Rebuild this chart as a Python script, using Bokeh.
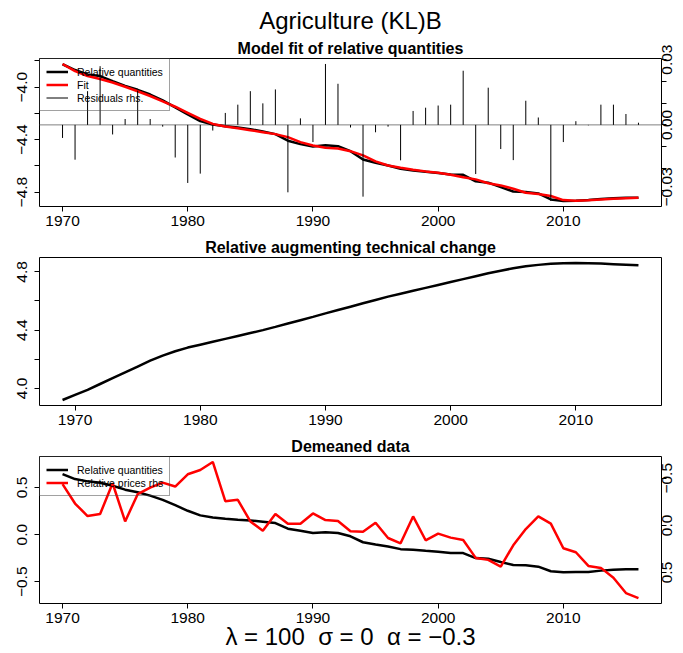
import math
from bokeh.plotting import figure
from bokeh.layouts import column
from bokeh.models import (Range1d, LinearAxis, FixedTicker, Span, Legend,
                          LegendItem, Title)
from bokeh.embed import file_html
from bokeh.resources import INLINE

FONT = "Liberation Sans"
TICK_FONT_PX = 15.5

# ---------------- data ----------------
years = list(range(1970, 2017))
years_tc = list(range(1969, 2016))

rel_quant = [-3.825, -3.869, -3.903, -3.915, -3.954, -3.990, -4.020, -4.056,
             -4.100, -4.154, -4.208, -4.259, -4.285, -4.297, -4.308, -4.320,
             -4.338, -4.358, -4.408, -4.434, -4.452, -4.442, -4.450, -4.488,
             -4.551, -4.576, -4.597, -4.622, -4.635, -4.645, -4.655, -4.665,
             -4.668, -4.718, -4.728, -4.762, -4.795, -4.800, -4.810, -4.856,
             -4.868, -4.866, -4.861, -4.853, -4.846, -4.843, -4.843]

fit = [-3.823, -3.877, -3.915, -3.938, -3.964, -3.997, -4.031, -4.067,
       -4.108, -4.149, -4.195, -4.241, -4.280, -4.300, -4.313, -4.328,
       -4.343, -4.358, -4.381, -4.419, -4.444, -4.462, -4.467, -4.488,
       -4.520, -4.566, -4.597, -4.614, -4.630, -4.642, -4.652, -4.668,
       -4.686, -4.703, -4.733, -4.749, -4.774, -4.805, -4.815, -4.830,
       -4.861, -4.866, -4.863, -4.856, -4.851, -4.846, -4.843]

residuals = [-0.0060, -0.0160, 0.0155, 0.0270, -0.0044, 0.0027, 0.0157, 0.0027,
             -0.0008, -0.0150, -0.0267, -0.0224, -0.0026, 0.0055, 0.0093, 0.0155,
             0.0099, 0.0163, -0.0310, 0.0030, -0.0079, 0.0280, 0.0189, -0.0012,
             -0.0330, -0.0034, -0.0008, -0.0163, 0.0064, 0.0079, 0.0089, 0.0093,
             0.0249, -0.0226, 0.0171, -0.0111, -0.0162, 0.0111, 0.0034, -0.0350,
             -0.0079, 0.0017, -0.0002, 0.0093, 0.0093, 0.0050, 0.0010]

tech_change = [3.920, 3.955, 3.990, 4.030, 4.070, 4.110, 4.150, 4.190,
               4.225, 4.255, 4.280, 4.300, 4.320, 4.340, 4.360, 4.380,
               4.400, 4.422, 4.445, 4.468, 4.491, 4.515, 4.538, 4.561,
               4.584, 4.607, 4.630, 4.650, 4.670, 4.690, 4.710, 4.730,
               4.750, 4.770, 4.790, 4.808, 4.825, 4.838, 4.848, 4.855,
               4.860, 4.861, 4.860, 4.857, 4.853, 4.849, 4.845]

dm_quant = [0.642, 0.589, 0.565, 0.551, 0.519, 0.477, 0.449, 0.414,
            0.368, 0.312, 0.253, 0.204, 0.182, 0.168, 0.158, 0.151,
            0.137, 0.123, 0.063, 0.042, 0.018, 0.025, 0.018, -0.018,
            -0.081, -0.105, -0.126, -0.154, -0.161, -0.172, -0.182, -0.196,
            -0.196, -0.249, -0.256, -0.291, -0.323, -0.326, -0.340, -0.389,
            -0.400, -0.396, -0.396, -0.382, -0.372, -0.368, -0.368]

dm_prices = [-0.437, -0.232, -0.099, -0.120, -0.447, -0.042, -0.331, -0.401,
             -0.454, -0.412, -0.542, -0.588, -0.673, -0.257, -0.271, -0.042,
             0.056, -0.120, -0.018, -0.018, -0.127, -0.056, -0.046, 0.063,
             0.067, -0.028, 0.134, 0.190, -0.095, 0.158, 0.088, 0.130,
             0.155, 0.345, 0.366, 0.437, 0.211, 0.039, -0.095, -0.018,
             0.243, 0.285, 0.430, 0.451, 0.556, 0.718, 0.771]

year_ticks = [1970, 1980, 1990, 2000, 2010]
year_labels = {t: str(t) for t in year_ticks}

p1_ticks = [-4.8, -4.6, -4.4, -4.2, -4.0, -3.8]
p1_labels = {-4.8: "\u22124.8", -4.6: "", -4.4: "\u22124.4", -4.2: "", -4.0: "\u22124.0", -3.8: ""}
res_ticks = [-0.03, -0.02, -0.01, 0.0, 0.01, 0.02, 0.03]
res_label_ticks = [-0.03, 0.0, 0.03]
res_label_text = ["\u22120.03", "0.00", "0.03"]
p2_ticks = [4.0, 4.2, 4.4, 4.6, 4.8]
p2_labels = {4.0: "4.0", 4.2: "", 4.4: "4.4", 4.6: "", 4.8: "4.8"}
p3_ticks = [-0.5, 0.0, 0.5]
p3_labels = {-0.5: "\u22120.5", 0.0: "0.0", 0.5: "0.5"}
p3r_label_text = ["\u22120.5", "0.0", "0.5"]

footer_text = "\u03bb = 100\u00a0 \u03c3 = 0\u00a0 \u03b1 = \u22120.3"

# approximate advance widths (em) of Liberation Sans glyphs, for centring
GLYPH_EM = {"0": 0.556, "1": 0.556, "2": 0.556, "3": 0.556, "4": 0.556,
            "5": 0.556, ".": 0.278, "\u2212": 0.584}


def text_px(s, size=TICK_FONT_PX):
    return sum(GLYPH_EM.get(c, 0.556) for c in s) * size


def padded(vals, frac=0.04):
    lo, hi = min(vals), max(vals)
    d = (hi - lo) * frac
    return lo - d, hi + d


def style_axis(ax, ticks, labels, vertical=False, standoff=2):
    ax.ticker = FixedTicker(ticks=ticks)
    ax.major_label_overrides = labels
    ax.axis_line_color = None
    ax.major_tick_out = 5
    ax.major_tick_in = 0
    ax.major_tick_line_color = "black"
    ax.minor_tick_line_color = None
    ax.major_label_text_font = FONT
    ax.major_label_text_font_size = f"{TICK_FONT_PX}px"
    ax.major_label_text_color = "black"
    ax.major_label_standoff = standoff
    if vertical:
        ax.major_label_orientation = "parallel"


def add_right_axis(p, range_name, ticks, label_ticks, label_text, rng, frame_h):
    """R-style right axis: tick marks, labels rotated to read bottom-to-top."""
    ax_t = LinearAxis(y_range_name=range_name)
    style_axis(ax_t, ticks, {t: "" for t in ticks}, standoff=0)
    ax_t.major_label_text_font_size = "0px"
    p.add_layout(ax_t, "right")
    span = rng.end - rng.start          # negative when the axis is flipped
    per_px = span / frame_h
    lo, hi = min(rng.start, rng.end), max(rng.start, rng.end)
    eps = abs(span) * 1e-4
    anchors, labels = [], {}
    for t, s in zip(label_ticks, label_text):
        a = t - (text_px(s) / 2.0) * per_px
        a = min(max(a, lo + eps), hi - eps)
        anchors.append(a)
        labels[a] = s
    ax_l = LinearAxis(y_range_name=range_name)
    style_axis(ax_l, anchors, labels, standoff=1)
    ax_l.major_tick_out = 0
    ax_l.major_tick_line_color = None
    ax_l.major_label_orientation = math.pi / 2
    p.add_layout(ax_l, "right")


def base_fig(height, x_rng, y_rng, top, bottom):
    p = figure(width=683, height=height, x_range=Range1d(*x_rng),
               y_range=Range1d(*y_rng), output_backend="svg",
               toolbar_location=None, title=None,
               min_border_left=39, min_border_right=22,
               min_border_top=top, min_border_bottom=bottom)
    p.grid.visible = False
    p.outline_line_color = "black"
    p.outline_line_width = 1
    p.background_fill_color = "white"
    p.border_fill_color = "white"
    style_axis(p.xaxis[0], year_ticks, year_labels, standoff=4)
    return p


def add_title(p, text, size, bold, place="above", standoff=2):
    p.add_layout(Title(text=text, align="center", text_font=FONT,
                       text_font_size=size,
                       text_font_style="bold" if bold else "normal",
                       text_color="black", standoff=standoff), place)


def make_legend(items):
    return Legend(items=items, location="top_left", margin=0, padding=6,
                  spacing=0, label_height=13, glyph_height=13, glyph_width=22,
                  label_standoff=9, label_text_font=FONT,
                  label_text_font_size="10.5px", label_text_color="black",
                  border_line_color="#444444", border_line_width=1,
                  background_fill_alpha=0)


# ---------------- panel 1 ----------------
p1 = base_fig(233, padded(years), padded(rel_quant + fit), 58, 27)
res_range = Range1d(*padded(residuals))
p1.extra_y_ranges = {"res": res_range}
style_axis(p1.yaxis[0], p1_ticks, p1_labels, vertical=True, standoff=7)
add_right_axis(p1, "res", res_ticks, res_label_ticks, res_label_text, res_range, 148)
p1.add_layout(Span(location=0, dimension="width", y_range_name="res",
                   line_color="#808080", line_width=1, level="underlay"))
r_q = p1.line(years, rel_quant, line_color="black", line_width=2.5)
r_f = p1.line(years, fit, line_color="red", line_width=2.5)
r_res = p1.segment(x0=years, y0=[0] * len(years), x1=years, y1=residuals,
                   y_range_name="res", line_color="black", line_width=1)
p1.add_layout(make_legend([
    LegendItem(label="Relative quantities", renderers=[r_q]),
    LegendItem(label="Fit", renderers=[r_f]),
    LegendItem(label="Residuals rhs.", renderers=[r_res]),
]), "center")
add_title(p1, "Model fit of relative quantities", "16px", True, standoff=4)
add_title(p1, "Agriculture (KL)B", "24px", False, standoff=4)

# ---------------- panel 2 ----------------
p2 = base_fig(199, padded(years_tc), padded(tech_change), 24, 27)
style_axis(p2.yaxis[0], p2_ticks, p2_labels, vertical=True, standoff=7)
p2.line(years_tc, tech_change, line_color="black", line_width=2.5)
add_title(p2, "Relative augmenting technical change", "16px", True, standoff=3)

# ---------------- panel 3 ----------------
lo3, hi3 = padded(dm_quant + dm_prices)
p3 = base_fig(221, padded(years), (lo3, hi3), 24, 50)
rp_range = Range1d(start=hi3, end=lo3)
p3.extra_y_ranges = {"rp": rp_range}
style_axis(p3.yaxis[0], p3_ticks, p3_labels, vertical=True, standoff=7)
add_right_axis(p3, "rp", p3_ticks, p3_ticks, p3r_label_text, rp_range, 147)
r_q3 = p3.line(years, dm_quant, line_color="black", line_width=2.5)
r_p3 = p3.line(years, dm_prices, y_range_name="rp", line_color="red", line_width=2.5)
p3.add_layout(make_legend([
    LegendItem(label="Relative quantities", renderers=[r_q3]),
    LegendItem(label="Relative prices rhs", renderers=[r_p3]),
]), "center")
add_title(p3, "Demeaned data", "16px", True, standoff=3)
add_title(p3, footer_text, "24px", False, place="below", standoff=-9)

layout = column(p1, p2, p3, spacing=0)
open("out.html", "w").write(file_html(layout, INLINE))
